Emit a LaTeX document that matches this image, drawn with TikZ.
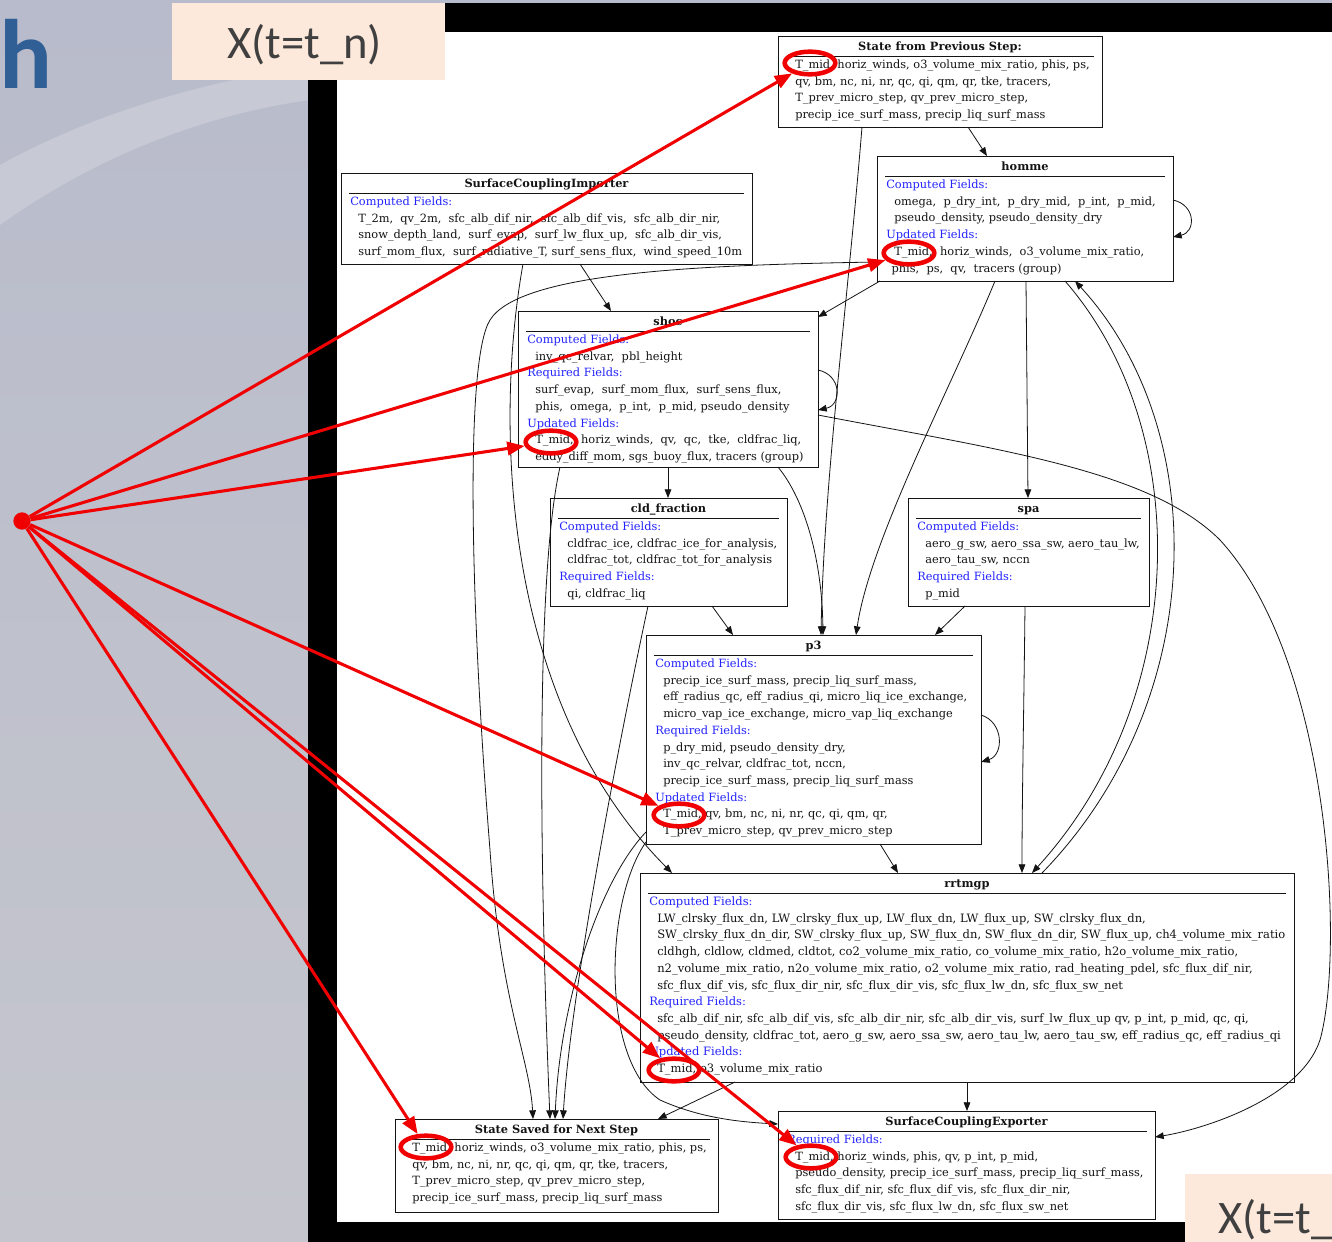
\documentclass[tikz,border=0pt]{standalone}
\usepackage{fontspec}
\newfontfamily\graphfont{DejaVu Serif}
\newfontfamily\slidefont{Carlito}
\usetikzlibrary{calc,arrows.meta,shapes.geometric}

\definecolor{fieldblue}{RGB}{35,35,255}
\definecolor{ink}{RGB}{20,20,20}
\definecolor{peach}{RGB}{253,233,219}
\definecolor{titleblue}{RGB}{48,95,150}
\definecolor{slidetext}{RGB}{64,64,64}
\definecolor{hot}{RGB}{240,0,0}
\definecolor{bgA}{RGB}{184,187,203}
\definecolor{bgB}{RGB}{220,222,231}
\definecolor{bgC}{RGB}{197,198,205}

\newcommand\flabel[1]{\textcolor{fieldblue}{#1}}
\newcommand\fentry[1]{\hspace*{6pt}#1}
\newcommand\gfs{8.53}

% #1 name, #2-#5 left/top/right/bottom (px), #6 title, #7 list of lines
\newcommand\fieldbox[7]{%
  \pgfmathsetmacro\bw{(#4-#2)*0.75}%
  \pgfmathsetmacro\bh{(#5-#3)*0.75}%
  \node[gbox, minimum width=\bw pt, minimum height=\bh pt] (#1) at ({(#2+#4)/2},{(#3+#5)/2}) {};
  \node[gtitle] (#1-title) at ({(#2+#4)/2},{#3+14.5}) {#6};
  \draw[grule] ($(#1.north west)+(8,20)$) -- ($(#1.north east)+(-8,20)$);
  \foreach \fline [count=\fidx] in {#7} {
    \node[gfield] (#1-\fidx) at ({#2+9},{#3+32.5+(\fidx-1)*16.7}) {\fline};
  }%
}

\begin{document}
\begin{tikzpicture}[x=0.75pt,y=-0.75pt,
  gbox/.style={draw=ink, line width=0.75pt, rectangle, inner sep=0pt, outer sep=0pt},
  gtitle/.style={font=\graphfont\bfseries\fontsize{8.53}{10}\selectfont, text=ink, inner sep=0pt, anchor=base},
  gfield/.style={font=\graphfont\fontsize{\gfs}{10}\selectfont, text=ink, inner sep=0pt, anchor=base west},
  grule/.style={draw=ink, line width=0.75pt},
  dep/.style={draw=ink, line width=0.6pt, -{Triangle[length=6.5pt,width=5pt]}},
  ring/.style={ellipse, draw=hot, line width=3.4pt, minimum width=38pt, minimum height=17pt, inner sep=0pt},
  pointer/.style={draw=hot, line width=2.3pt, -{Triangle[length=13pt,width=10pt]}},
]
\useasboundingbox (0,0) rectangle (1332,1242);
\clip (0,0) rectangle (1332,1242);

% slide background
\shade[top color=bgA, middle color=bgB, bottom color=bgC] (0,0) rectangle (1332,1242);
\fill[white, opacity=0.2] (0,165) .. controls (90,115) and (200,82) .. (310,66) -- (310,100) .. controls (200,115) and (90,160) .. (0,225) -- cycle;

% screenshot frame
\fill[black] (308,3) rectangle (1340,1250);
\fill[white] (337,32) rectangle (1340,1222);

% dependency graph
\fieldbox{prev}{778}{36}{1102}{127}{State from Previous Step:}{
  {\fentry{T\_mid, horiz\_winds, o3\_volume\_mix\_ratio, phis, ps,}},
  {\fentry{qv, bm, nc, ni, nr, qc, qi, qm, qr, tke, tracers,}},
  {\fentry{T\_prev\_micro\_step, qv\_prev\_micro\_step,}},
  {\fentry{precip\_ice\_surf\_mass, precip\_liq\_surf\_mass}}}

\fieldbox{homme}{877}{156}{1173}{281}{homme}{
  {\flabel{Computed Fields:}},
  {\fentry{omega,~ p\_dry\_int,~ p\_dry\_mid,~ p\_int,~ p\_mid,}},
  {\fentry{pseudo\_density, pseudo\_density\_dry}},
  {\flabel{Updated Fields:}},
  {\fentry{T\_mid,~ horiz\_winds,~ o3\_volume\_mix\_ratio,}},
  {\hspace*{4pt}phis,~ ps,~ qv,~ tracers (group)}}

\fieldbox{sci}{341}{173}{752}{264}{SurfaceCouplingImporter}{
  {\flabel{Computed Fields:}},
  {\fentry{T\_2m,~ qv\_2m,~ sfc\_alb\_dif\_nir,~ sfc\_alb\_dif\_vis,~ sfc\_alb\_dir\_nir,}},
  {\fentry{snow\_depth\_land,~ surf\_evap,~ surf\_lw\_flux\_up,~ sfc\_alb\_dir\_vis,}},
  {\fentry{surf\_mom\_flux,~ surf\_radiative\_T, surf\_sens\_flux,~ wind\_speed\_10m}}}

\fieldbox{shoc}{518}{311}{818}{467}{shoc}{
  {\flabel{Computed Fields:}},
  {\fentry{inv\_qc\_relvar,~ pbl\_height}},
  {\flabel{Required Fields:}},
  {\fentry{surf\_evap,~ surf\_mom\_flux,~ surf\_sens\_flux,}},
  {\fentry{phis,~ omega,~ p\_int,~ p\_mid, pseudo\_density}},
  {\flabel{Updated Fields:}},
  {\fentry{T\_mid,~ horiz\_winds,~ qv,~ qc,~ tke,~ cldfrac\_liq,}},
  {\fentry{eddy\_diff\_mom, sgs\_buoy\_flux, tracers (group)}}}

\fieldbox{cld}{550}{498}{787}{606}{cld\_fraction}{
  {\flabel{Computed Fields:}},
  {\fentry{cldfrac\_ice, cldfrac\_ice\_for\_analysis,}},
  {\fentry{cldfrac\_tot, cldfrac\_tot\_for\_analysis}},
  {\flabel{Required Fields:}},
  {\fentry{qi, cldfrac\_liq}}}

\fieldbox{spa}{908}{498}{1149}{606}{spa}{
  {\flabel{Computed Fields:}},
  {\fentry{aero\_g\_sw, aero\_ssa\_sw, aero\_tau\_lw,}},
  {\fentry{aero\_tau\_sw, nccn}},
  {\flabel{Required Fields:}},
  {\fentry{p\_mid}}}

\fieldbox{p3}{646}{635}{981}{844}{p3}{
  {\flabel{Computed Fields:}},
  {\fentry{precip\_ice\_surf\_mass, precip\_liq\_surf\_mass,}},
  {\fentry{eff\_radius\_qc, eff\_radius\_qi, micro\_liq\_ice\_exchange,}},
  {\fentry{micro\_vap\_ice\_exchange, micro\_vap\_liq\_exchange}},
  {\flabel{Required Fields:}},
  {\fentry{p\_dry\_mid, pseudo\_density\_dry,}},
  {\fentry{inv\_qc\_relvar, cldfrac\_tot, nccn,}},
  {\fentry{precip\_ice\_surf\_mass, precip\_liq\_surf\_mass}},
  {\flabel{Updated Fields:}},
  {\fentry{T\_mid, qv, bm, nc, ni, nr, qc, qi, qm, qr,}},
  {\fentry{T\_prev\_micro\_step, qv\_prev\_micro\_step}}}

\renewcommand\gfs{8.64}
\fieldbox{rrt}{640}{873}{1294}{1082}{rrtmgp}{
  {\flabel{Computed Fields:}},
  {\fentry{LW\_clrsky\_flux\_dn, LW\_clrsky\_flux\_up, LW\_flux\_dn, LW\_flux\_up, SW\_clrsky\_flux\_dn,}},
  {\fentry{SW\_clrsky\_flux\_dn\_dir, SW\_clrsky\_flux\_up, SW\_flux\_dn, SW\_flux\_dn\_dir, SW\_flux\_up, ch4\_volume\_mix\_ratio}},
  {\fentry{cldhgh, cldlow, cldmed, cldtot, co2\_volume\_mix\_ratio, co\_volume\_mix\_ratio, h2o\_volume\_mix\_ratio,}},
  {\fentry{n2\_volume\_mix\_ratio, n2o\_volume\_mix\_ratio, o2\_volume\_mix\_ratio, rad\_heating\_pdel, sfc\_flux\_dif\_nir,}},
  {\fentry{sfc\_flux\_dif\_vis, sfc\_flux\_dir\_nir, sfc\_flux\_dir\_vis, sfc\_flux\_lw\_dn, sfc\_flux\_sw\_net}},
  {\flabel{Required Fields:}},
  {\fentry{sfc\_alb\_dif\_nir, sfc\_alb\_dif\_vis, sfc\_alb\_dir\_nir, sfc\_alb\_dir\_vis, surf\_lw\_flux\_up qv, p\_int, p\_mid, qc, qi,}},
  {\fentry{pseudo\_density, cldfrac\_tot, aero\_g\_sw, aero\_ssa\_sw, aero\_tau\_lw, aero\_tau\_sw, eff\_radius\_qc, eff\_radius\_qi}},
  {\flabel{Updated Fields:}},
  {\fentry{T\_mid, o3\_volume\_mix\_ratio}}}
\renewcommand\gfs{8.53}

\fieldbox{saved}{395}{1119}{718}{1212}{State Saved for Next Step}{
  {\fentry{T\_mid, horiz\_winds, o3\_volume\_mix\_ratio, phis, ps,}},
  {\fentry{qv, bm, nc, ni, nr, qc, qi, qm, qr, tke, tracers,}},
  {\fentry{T\_prev\_micro\_step, qv\_prev\_micro\_step,}},
  {\fentry{precip\_ice\_surf\_mass, precip\_liq\_surf\_mass}}}

\fieldbox{sce}{778}{1111}{1155}{1219}{SurfaceCouplingExporter}{
  {\flabel{Required Fields:}},
  {\fentry{T\_mid, horiz\_winds, phis, qv, p\_int, p\_mid,}},
  {\fentry{pseudo\_density, precip\_ice\_surf\_mass, precip\_liq\_surf\_mass,}},
  {\fentry{sfc\_flux\_dif\_nir, sfc\_flux\_dif\_vis, sfc\_flux\_dir\_nir,}},
  {\fentry{sfc\_flux\_dir\_vis, sfc\_flux\_lw\_dn, sfc\_flux\_sw\_net}}}

% dependencies
\draw[dep] ($(prev.south west)+(190,0)$) -- ($(homme.north west)+(110,0)$);
\draw[dep] ($(prev.south west)+(84,0)$) .. controls (848,300) and (824,480) .. ($(p3.north west)+(175,0)$);
\draw[dep] ($(homme.north east)+(0,44)$) .. controls (1196,205) and (1196,232) .. ($(homme.north east)+(0,81)$);
\draw[dep] ($(homme.south west)+(3,0)$) -- ($(shoc.north east)+(0,6)$);
\draw[dep] ($(homme.south west)+(118,0)$) .. controls (950,390) and (870,540) .. ($(p3.north west)+(210,0)$);
\draw[dep] ($(homme.south west)+(149,0)$) -- ($(spa.north west)+(120,0)$);
\draw[dep] ($(homme.south west)+(188,0)$) .. controls (1195,430) and (1190,700) .. ($(rrt.north west)+(392,0)$);
\draw[dep] ($(rrt.north west)+(402,0)$) .. controls (1210,700) and (1212,430) .. ($(homme.south west)+(198,0)$);
\draw[dep] ($(sci.south west)+(239,0)$) -- ($(shoc.north west)+(93,0)$);
\draw[dep] ($(sci.south west)+(182,0)$) .. controls (495,420) and (500,700) .. ($(rrt.north west)+(32,0)$);
\draw[dep] ($(homme.south west)+(0,-19)$) .. controls (700,265) and (520,272) .. (490,320)
  .. controls (465,360) and (470,600) .. (490,850) .. controls (500,1000) and (530,1060) .. ($(saved.north west)+(138,0)$);
\draw[dep] ($(shoc.north east)+(0,59)$) .. controls (842,375) and (842,405) .. ($(shoc.north east)+(0,99)$);
\draw[dep] ($(shoc.south west)+(150,0)$) -- ($(cld.north west)+(118,0)$);
\draw[dep] ($(shoc.south west)+(260,0)$) .. controls (805,500) and (822,560) .. ($(p3.north west)+(177,0)$);
\draw[dep] ($(shoc.south west)+(42,0)$) .. controls (530,600) and (545,1000) .. ($(saved.north west)+(155,0)$);
\draw[dep] ($(shoc.north east)+(0,104)$) .. controls (1000,450) and (1150,470) .. (1220,540)
  .. controls (1330,660) and (1345,950) .. (1320,1040) .. controls (1300,1100) and (1200,1130) .. ($(sce.north east)+(0,26)$);
\draw[dep] ($(cld.south west)+(162,0)$) -- ($(p3.north west)+(87,0)$);
\draw[dep] ($(cld.south west)+(98,0)$) .. controls (615,760) and (570,1000) .. ($(saved.north west)+(168,0)$);
\draw[dep] ($(spa.south west)+(57,0)$) -- ($(p3.north west)+(289,0)$);
\draw[dep] ($(spa.south west)+(117,0)$) .. controls (1024,700) and (1022,800) .. ($(rrt.north west)+(382,0)$);
\draw[dep] ($(p3.north east)+(0,80)$) .. controls (1004,722) and (1004,755) .. ($(p3.north east)+(0,127)$);
\draw[dep] ($(p3.south west)+(234,0)$) -- ($(rrt.north west)+(258,0)$);
\draw[dep] ($(p3.south west)+(0,-12)$) .. controls (600,880) and (560,1000) .. ($(saved.north west)+(160,0)$);
\draw[dep] ($(p3.south west)+(0,-2)$) .. controls (605,900) and (600,1060) .. (660,1100)
  .. controls (700,1118) and (740,1122) .. ($(sce.north west)+(0,13)$);
\draw[dep] ($(rrt.south west)+(95,0)$) -- ($(saved.north west)+(263,0)$);
\draw[dep] ($(rrt.south west)+(327,0)$) -- ($(sce.north west)+(189,0)$);

% time-level labels
\node[fill=peach, inner sep=0pt, minimum width=204.75pt, minimum height=57.75pt] (tnbox) at (308.5,41.5) {};
\node[anchor=base west, inner sep=0pt, text=slidetext, font=\slidefont\fontsize{35}{35}\selectfont] (tn) at (227,58) {X(t=t\_n)};
\node[fill=peach, inner sep=0pt, minimum width=120pt, minimum height=60pt, anchor=north west] (tnextbox) at (1185,1174) {};
\node[anchor=base west, inner sep=0pt, text=slidetext, font=\slidefont\fontsize{35}{35}\selectfont] (tnext) at (1218,1233) {X(t=t\_};

% slide title fragment
\node[anchor=base west, inner sep=0pt, text=titleblue, font=\slidefont\bfseries\fontsize{74}{74}\selectfont] (head) at (-1,88) {h};

% T_mid highlights
\node[ring] (ring-prev) at (810,63) {};
\node[ring] (ring-homme) at (909,253) {};
\node[ring] (ring-shoc) at (551,442) {};
\node[ring] (ring-p3) at (679,815) {};
\node[ring] (ring-rrt) at (674,1070) {};
\node[ring] (ring-sce) at (811,1157) {};
\node[ring] (ring-saved) at (426,1147) {};

\node[circle, fill=hot, minimum size=13pt, inner sep=0pt] (src) at (22,521) {};
\foreach \target in {prev,homme,shoc,p3,rrt,sce,saved}
  \draw[pointer] (src) -- (ring-\target);
\end{tikzpicture}
\end{document}
